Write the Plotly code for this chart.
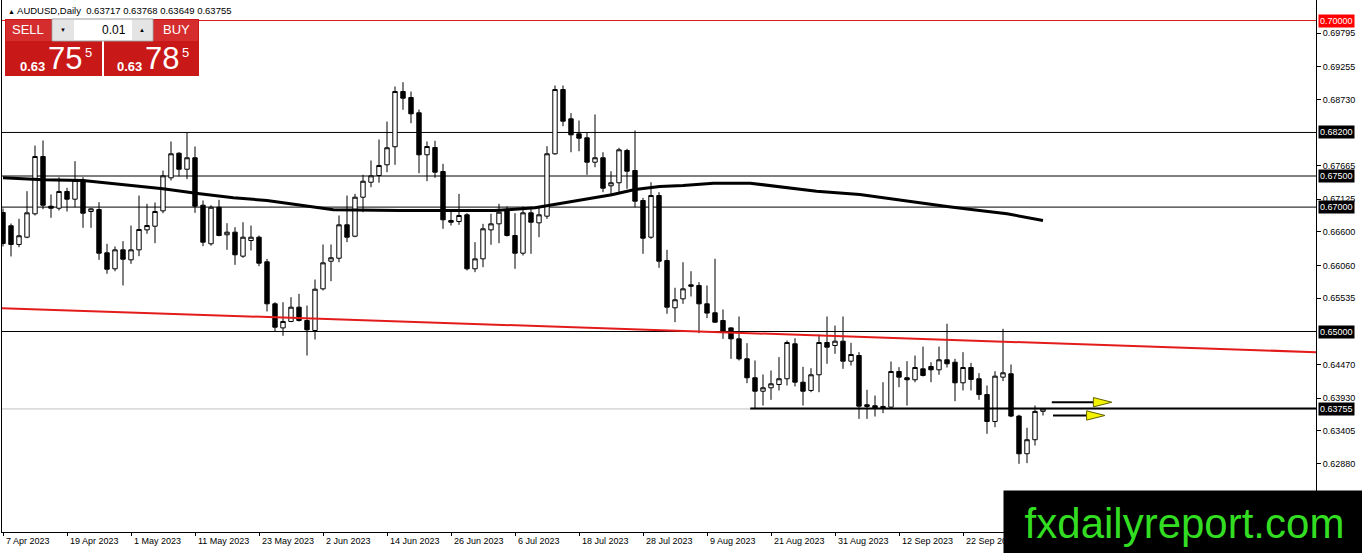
import plotly.graph_objects as go

# AUDUSD daily bars, one per weekday from 7 Apr 2023
opens = [0.66913, 0.66700, 0.66399, 0.66516, 0.66892, 0.67813, 0.67014, 0.66982, 0.67251, 0.67127,
         0.67428, 0.66929, 0.66961, 0.66265, 0.66008, 0.66313, 0.66152, 0.66313, 0.66634, 0.66693,
         0.66940, 0.67471, 0.67866, 0.67609, 0.67793, 0.67030, 0.66410, 0.66998, 0.66555, 0.66597,
         0.66211, 0.66463, 0.66516, 0.66120, 0.65445, 0.65058, 0.65161, 0.65391, 0.65177, 0.65016,
         0.65686, 0.66130, 0.66178, 0.66715, 0.66532, 0.67159, 0.67400, 0.67508, 0.67680, 0.67970,
         0.68858, 0.68762, 0.68516, 0.67841, 0.67958, 0.67572, 0.66785, 0.66768, 0.66876, 0.66008,
         0.66168, 0.66634, 0.66731, 0.66956, 0.66543, 0.66259, 0.66908, 0.66747, 0.66854, 0.67857,
         0.68890, 0.68419, 0.68178, 0.68114, 0.67722, 0.67793, 0.67342, 0.67391, 0.67910, 0.67588,
         0.67106, 0.66516, 0.67186, 0.66141, 0.65381, 0.65525, 0.65750, 0.65740, 0.65445, 0.65301,
         0.65177, 0.65058, 0.64882, 0.64561, 0.64256, 0.64040, 0.64095, 0.64148, 0.64240, 0.64802,
         0.64185, 0.64052, 0.64304, 0.64823, 0.64775, 0.64844, 0.64523, 0.64614, 0.63822, 0.63806,
         0.63795, 0.63784, 0.64357, 0.64256, 0.64224, 0.64400, 0.64437, 0.64384, 0.64545, 0.64506,
         0.64175, 0.64421, 0.64240, 0.63986, 0.63553, 0.64266, 0.64320, 0.63640, 0.63035, 0.63260,
         0.63717]
highs = [0.66977, 0.66736, 0.66812, 0.67256, 0.67990, 0.68071, 0.67203, 0.67480, 0.67310, 0.67738,
         0.67480, 0.66982, 0.67079, 0.66410, 0.66367, 0.66452, 0.66704, 0.67186, 0.67053, 0.67074,
         0.67588, 0.68055, 0.67882, 0.68194, 0.67974, 0.67106, 0.67030, 0.67117, 0.66741, 0.66677,
         0.66757, 0.66704, 0.66543, 0.66168, 0.65471, 0.65471, 0.65551, 0.65606, 0.65418, 0.65836,
         0.66399, 0.66399, 0.66865, 0.67186, 0.67213, 0.67519, 0.67749, 0.68087, 0.68376, 0.68939,
         0.69008, 0.68858, 0.68569, 0.68055, 0.68066, 0.67696, 0.66945, 0.67213, 0.66902, 0.66436,
         0.66731, 0.66892, 0.67053, 0.67010, 0.66902, 0.67010, 0.66982, 0.66998, 0.67979, 0.68955,
         0.68955, 0.68510, 0.68392, 0.68205, 0.68489, 0.67882, 0.67577, 0.67954, 0.67937, 0.68232,
         0.67149, 0.67400, 0.67240, 0.66313, 0.65703, 0.66114, 0.65969, 0.65793, 0.65740, 0.66169,
         0.65354, 0.65069, 0.65241, 0.64812, 0.64534, 0.64309, 0.64373, 0.64588, 0.64855, 0.64892,
         0.64432, 0.64410, 0.64952, 0.65241, 0.65096, 0.65241, 0.64817, 0.64668, 0.64063, 0.63971,
         0.64185, 0.64518, 0.64427, 0.64523, 0.64614, 0.64758, 0.64506, 0.64758, 0.65125, 0.64561,
         0.64668, 0.64496, 0.64330, 0.64132, 0.64362, 0.65043, 0.64470, 0.63662, 0.63453, 0.63810,
         0.63768]
lows = [0.66367, 0.66206, 0.66355, 0.66500, 0.66865, 0.66966, 0.66828, 0.66945, 0.66929, 0.66998,
        0.66667, 0.66667, 0.66152, 0.65928, 0.65969, 0.65740, 0.66088, 0.66211, 0.66571, 0.66420,
        0.66902, 0.67428, 0.67492, 0.67449, 0.66908, 0.66372, 0.66380, 0.66532, 0.66313, 0.66072,
        0.66185, 0.66302, 0.66050, 0.65322, 0.65005, 0.64931, 0.65150, 0.65160, 0.64614, 0.64871,
        0.65659, 0.65809, 0.66114, 0.66436, 0.66516, 0.66918, 0.67320, 0.67391, 0.67561, 0.67680,
        0.68564, 0.68349, 0.67545, 0.67416, 0.67471, 0.66651, 0.66704, 0.66715, 0.65981, 0.65954,
        0.66034, 0.66394, 0.66420, 0.66527, 0.66008, 0.66222, 0.66249, 0.66516, 0.66811, 0.67841,
        0.68300, 0.67882, 0.67898, 0.67519, 0.67641, 0.67240, 0.67186, 0.67240, 0.67294, 0.66998,
        0.66249, 0.66490, 0.66024, 0.65285, 0.65150, 0.65445, 0.65563, 0.64973, 0.65214, 0.65140,
        0.64882, 0.64561, 0.64534, 0.64169, 0.63757, 0.63810, 0.63901, 0.64052, 0.64132, 0.64116,
        0.63810, 0.64024, 0.64024, 0.64481, 0.64641, 0.64400, 0.64453, 0.63596, 0.63596, 0.63633,
        0.63687, 0.63770, 0.64105, 0.63810, 0.64185, 0.64277, 0.64185, 0.64304, 0.64421, 0.63880,
        0.64052, 0.64052, 0.63901, 0.63355, 0.63462, 0.64202, 0.63623, 0.62873, 0.62884, 0.63167,
        0.63649]
closes = [0.66415, 0.66399, 0.66539, 0.66908, 0.67813, 0.67030, 0.66982, 0.67251, 0.67127, 0.67428,
          0.66902, 0.66972, 0.66259, 0.66001, 0.66313, 0.66162, 0.66313, 0.66640, 0.66704, 0.66929,
          0.67503, 0.67857, 0.67609, 0.67793, 0.67014, 0.66436, 0.66998, 0.66543, 0.66597, 0.66233,
          0.66516, 0.66516, 0.66098, 0.65445, 0.65069, 0.65161, 0.65391, 0.65177, 0.65027, 0.65680,
          0.66104, 0.66185, 0.66715, 0.66516, 0.67159, 0.67416, 0.67503, 0.67669, 0.67954, 0.68858,
          0.68751, 0.68500, 0.67841, 0.67974, 0.67561, 0.66796, 0.66757, 0.66865, 0.66008, 0.66168,
          0.66651, 0.66731, 0.66918, 0.66543, 0.66259, 0.66908, 0.66757, 0.66876, 0.67857, 0.68890,
          0.68381, 0.68162, 0.68108, 0.67722, 0.67793, 0.67304, 0.67391, 0.67921, 0.67577, 0.67095,
          0.66500, 0.67186, 0.66130, 0.65391, 0.65510, 0.65686, 0.65728, 0.65445, 0.65296, 0.65150,
          0.65005, 0.64882, 0.64561, 0.64256, 0.64040, 0.64095, 0.64159, 0.64240, 0.64823, 0.64185,
          0.64040, 0.64304, 0.64823, 0.64748, 0.64844, 0.64523, 0.64630, 0.63799, 0.63795, 0.63774,
          0.63774, 0.64357, 0.64266, 0.64224, 0.64421, 0.64293, 0.64384, 0.64545, 0.64481, 0.64175,
          0.64421, 0.64229, 0.63986, 0.63553, 0.64282, 0.64336, 0.63640, 0.63034, 0.63260, 0.63715,
          0.63755]
bars = list(range(len(opens)))

# moving average (read at a few bars)
ma_bar = [0.0, 5.0, 10.0, 16.3, 20.0, 24.6, 28.8, 33.0, 38.4, 41.3, 49.6, 61.5, 66.5, 71.9,
          76.1, 79.0, 82.1, 85.0, 88.8, 93.4, 96.3, 101.7, 107.1, 110.9, 118.0, 121.3, 125.5, 130.0]
ma_val = [0.67471, 0.67439, 0.67428, 0.67347, 0.67294, 0.67214, 0.67150, 0.67106, 0.67010, 0.66957,
          0.66945, 0.66945, 0.66989, 0.67106, 0.67198, 0.67283, 0.67331, 0.67347, 0.67384, 0.67384,
          0.67336, 0.67256, 0.67203, 0.67133, 0.67010, 0.66957, 0.66892, 0.66785]

# drawn objects
trend_bar = [-1, 165]
trend_val = [0.65379, 0.64664]
support_bar = [93.4, 165]
support_val = 0.63762
levels = [0.70000, 0.68200, 0.67500, 0.67000, 0.65000]
level_colors = ["#e31b1b", "black", "black", "black", "black"]
bid = 0.63755
arrow_tail = [131.1, 131.25]
arrow_tip = [138.6, 137.75]
arrow_val = [0.63863, 0.63650]

price_ticks = [0.69795, 0.69255, 0.68730, 0.67665, 0.67125, 0.66600, 0.66060,
               0.65535, 0.64470, 0.63930, 0.63405, 0.62880]
date_labels = ["7 Apr 2023", "19 Apr 2023", "1 May 2023", "11 May 2023", "23 May 2023",
               "2 Jun 2023", "14 Jun 2023", "26 Jun 2023", "6 Jul 2023", "18 Jul 2023",
               "28 Jul 2023", "9 Aug 2023", "21 Aug 2023", "31 Aug 2023", "12 Sep 2023",
               "22 Sep 2023"]
date_bars = [8 * i for i in range(len(date_labels))]

W, H = 1362, 553
ML, MR, MT, MB = 2, 46, 0, 21
PW, PH = W - ML - MR, H - MT - MB
FONT = "Liberation Sans, Arial, sans-serif"


def px(x, y):
    return (x - ML) / PW, (MT + PH - y) / PH


fig = go.Figure()
fig.add_candlestick(x=bars, open=opens, high=highs, low=lows, close=closes,
                    increasing=dict(line=dict(color="black", width=1), fillcolor="white"),
                    decreasing=dict(line=dict(color="black", width=1), fillcolor="black"),
                    whiskerwidth=0, hoverinfo="skip", showlegend=False)
fig.add_scatter(x=ma_bar, y=ma_val, mode="lines", line=dict(color="black", width=3),
                hoverinfo="skip", showlegend=False)
fig.add_scatter(x=trend_bar, y=trend_val, mode="lines", line=dict(color="#e31b1b", width=2),
                hoverinfo="skip", showlegend=False)
fig.add_scatter(x=support_bar, y=[support_val] * 2, mode="lines",
                line=dict(color="black", width=2), hoverinfo="skip", showlegend=False)

shapes = []
for lv, c in zip(levels, level_colors):
    shapes.append(dict(type="line", xref="paper", x0=0, x1=1, yref="y", y0=lv, y1=lv,
                       line=dict(color=c, width=1), layer="below"))
shapes.append(dict(type="line", xref="paper", x0=0, x1=1, yref="y", y0=bid, y1=bid,
                   line=dict(color="#c0c0c0", width=1), layer="below"))

# yellow arrows
head_len, head_half = 2.3, 0.00075
for t0, t1, v in zip(arrow_tail, arrow_tip, arrow_val):
    shapes.append(dict(type="line", xref="x", yref="y", x0=t0, x1=t1 - head_len, y0=v, y1=v,
                       line=dict(color="black", width=2)))
    shapes.append(dict(type="path", xref="x", yref="y",
                       path=f"M {t1 - head_len} {v - head_half} L {t1} {v} L {t1 - head_len} {v + head_half} Z",
                       fillcolor="#f4f400", line=dict(color="#606000", width=1)))


def rect(x0, y0, x1, y1, fill, line=None):
    a0, b0 = px(x0, y0)
    a1, b1 = px(x1, y1)
    shapes.append(dict(type="rect", xref="paper", yref="paper", x0=a0, y0=b0, x1=a1, y1=b1,
                       fillcolor=fill, line=dict(width=1 if line else 0, color=line or fill),
                       layer="above"))


# one-click trading panel
rect(5, 19, 102, 76, "#c91818")
rect(104, 19, 199, 76, "#c91818")
rect(6, 20, 51, 41, "#d52d2d")
rect(153, 20, 198, 41, "#d52d2d")
rect(52, 19, 153, 41, "white", "#9a9a9a")
rect(53, 20, 74, 40, "#e4e4e4")
rect(132, 20, 152, 40, "#e4e4e4")

annotations = []


def text(x, y, s, size, color="white", anchor="center", bold=False, **kw):
    a, b = px(x, y)
    annotations.append(dict(xref="paper", yref="paper", x=a, y=b, text=f"<b>{s}</b>" if bold else s,
                            showarrow=False, xanchor=anchor, yanchor="middle",
                            font=dict(family=FONT, size=size, color=color), **kw))


text(6, 10, "<span style='font-size:7px'>▲</span> AUDUSD,Daily  0.63717 0.63768 0.63649 0.63755",
     9.5, color="black", anchor="left")
text(28, 30, "SELL", 13)
text(176, 30, "BUY", 13)
text(63, 30, "▼", 6, color="black")
text(142, 30, "▲", 6, color="black")
text(128, 30, "0.01", 12, color="black", anchor="right")
text(32, 66, "0.63", 13, bold=True)
text(65, 58, "75", 31)
text(88, 52, "5", 13)
text(129, 66, "0.63", 13, bold=True)
text(162, 58, "78", 31)
text(185, 52, "5", 13)

# date labels start at their tick like the terminal does
for lab, b in zip(date_labels, date_bars):
    annotations.append(dict(xref="x", yref="paper", x=b, y=px(0, 541)[1], text=lab,
                            showarrow=False, xanchor="left", yanchor="middle", xshift=1,
                            font=dict(family=FONT, size=9, color="black")))

# highlighted price labels
for lv, bg in [(0.70000, "#ff0000"), (0.68200, "black"), (0.67500, "black"),
               (0.67000, "black"), (0.65000, "black"), (bid, "black")]:
    annotations.append(dict(xref="paper", yref="y", x=1, y=lv, xshift=2, text=f"{lv:.5f}",
                            showarrow=False, xanchor="left", yanchor="middle", bgcolor=bg,
                            borderpad=1, font=dict(family=FONT, size=9, color="white")))

# watermark box
wx, wy = px(1003, 490)
annotations.append(dict(xref="paper", yref="paper", x=wx, y=wy, xanchor="left", yanchor="top",
                        width=359, height=63, bgcolor="black", showarrow=False,
                        text="fxdailyreport.com", align="center", valign="middle",
                        font=dict(family=FONT, size=42, color="#33dd22")))

fig.update_layout(
    width=W, height=H,
    margin=dict(l=ML, r=MR, t=MT, b=MB, pad=0),
    paper_bgcolor="white", plot_bgcolor="white",
    boxgap=0.45, boxgroupgap=0,
    shapes=shapes, annotations=annotations,
    xaxis=dict(range=[-0.125, 164.125], showgrid=False, zeroline=False,
               showline=True, linecolor="black", linewidth=1,
               tickvals=date_bars, ticks="outside", ticklen=3, tickcolor="black",
               showticklabels=False, rangeslider=dict(visible=False), fixedrange=True),
    yaxis=dict(range=[0.617765, 0.703295], side="right", showgrid=False, zeroline=False,
               showline=True, mirror=True, linecolor="black", linewidth=1,
               tickvals=price_ticks, tickformat=".5f", ticks="outside", ticklen=4,
               tickcolor="black", tickfont=dict(family=FONT, size=9, color="black"),
               fixedrange=True),
)

fig.write_html("out.html", config={"displayModeBar": False},
               post_script="document.body.style.margin='0px';document.body.style.overflow='hidden';")
